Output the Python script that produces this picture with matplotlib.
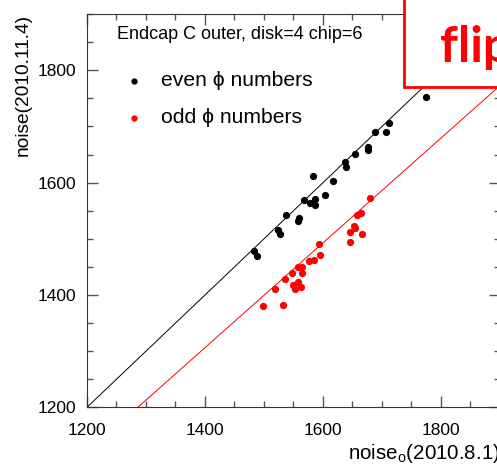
import matplotlib
matplotlib.use('Agg')
from matplotlib import pyplot as plt
from matplotlib.patches import Rectangle
from matplotlib.ticker import MultipleLocator
import numpy as np

plt.rcParams['font.family'] = ['Liberation Sans', 'DejaVu Sans']

# even phi numbers (black)
even_x = [1774, 1712, 1707, 1688, 1677, 1676, 1654, 1638, 1639, 1583, 1617, 1603,
          1587, 1567, 1578, 1586, 1538, 1560, 1558, 1523, 1527, 1483, 1488]
even_y = [1753, 1707, 1691, 1691, 1659, 1663, 1651, 1636, 1627, 1612, 1603, 1578,
          1571, 1569, 1563, 1561, 1542, 1537, 1531, 1516, 1509, 1478, 1470]

# odd phi numbers (red)
odd_x = [1679, 1664, 1658, 1652, 1655, 1645, 1666, 1646, 1594, 1595, 1584, 1576,
         1564, 1558, 1565, 1547, 1535, 1558, 1549, 1562, 1552, 1518, 1498, 1533]
odd_y = [1572, 1546, 1542, 1522, 1520, 1513, 1508, 1494, 1491, 1471, 1462, 1461,
         1450, 1450, 1439, 1439, 1428, 1424, 1418, 1414, 1411, 1411, 1380, 1382]

even_slope = 1.0
odd_slope = 0.933

xlim = (1200, 1900)
ylim = (1200, 1900)

fig = plt.figure(figsize=(4.97, 4.72), dpi=100)
ax = fig.add_axes([0.175, 0.137, 0.831, 0.833])

xs = np.array(xlim, dtype=float)
ax.plot(xs, even_slope * xs, color='black', lw=0.7)
ax.plot(xs, odd_slope * xs, color='red', lw=0.7)
ax.plot(even_x, even_y, linestyle='', marker='o', ms=4.2, color='black')
ax.plot(odd_x, odd_y, linestyle='', marker='o', ms=4.2, color='red')

ax.set_xlim(*xlim)
ax.set_ylim(*ylim)
ax.xaxis.set_major_locator(MultipleLocator(200))
ax.xaxis.set_minor_locator(MultipleLocator(50))
ax.yaxis.set_major_locator(MultipleLocator(200))
ax.yaxis.set_minor_locator(MultipleLocator(50))
ax.tick_params(which='both', direction='in', top=True, right=True,
               color='#555555', width=1, labelsize=12.5)
ax.tick_params(which='major', length=8)
ax.tick_params(which='minor', length=4.5)
ax.tick_params(axis='x', pad=11)
ax.tick_params(axis='y', pad=8)
for s in ax.spines.values():
    s.set_color('#333333')

ax.set_ylabel('noise(2010.11.4)', fontsize=13.8, loc='top', labelpad=4)
ax.set_xlabel('noise$_{\\mathregular{o}}$(2010.8.1)', fontsize=14.8, loc='right', labelpad=3)

ax.text(0.073, 0.947, 'Endcap C outer, disk=4 chip=6', transform=ax.transAxes,
        fontsize=13, va='center', ha='left')
ax.plot([0.114], [0.830], transform=ax.transAxes, marker='o', ms=3.5, color='black')
ax.text(0.179, 0.830, 'even \u03d5 numbers', transform=ax.transAxes,
        fontsize=15.2, va='center', ha='left')
ax.plot([0.114], [0.736], transform=ax.transAxes, marker='o', ms=3.5, color='red')
ax.text(0.179, 0.736, 'odd \u03d5 numbers', transform=ax.transAxes,
        fontsize=15.2, va='center', ha='left')

# red "flip" stamp in the top right corner
box = Rectangle((0.813, 0.816), 0.3, 0.3, transform=fig.transFigure,
                facecolor='white', edgecolor='red', lw=2, zorder=10)
fig.add_artist(box)
fig.text(0.885, 0.869, 'flip', color='red', fontsize=36, fontweight='bold',
         family=['Lato', 'DejaVu Sans'], va='baseline', ha='left', zorder=11)

plt.savefig('out.png', dpi=100)
